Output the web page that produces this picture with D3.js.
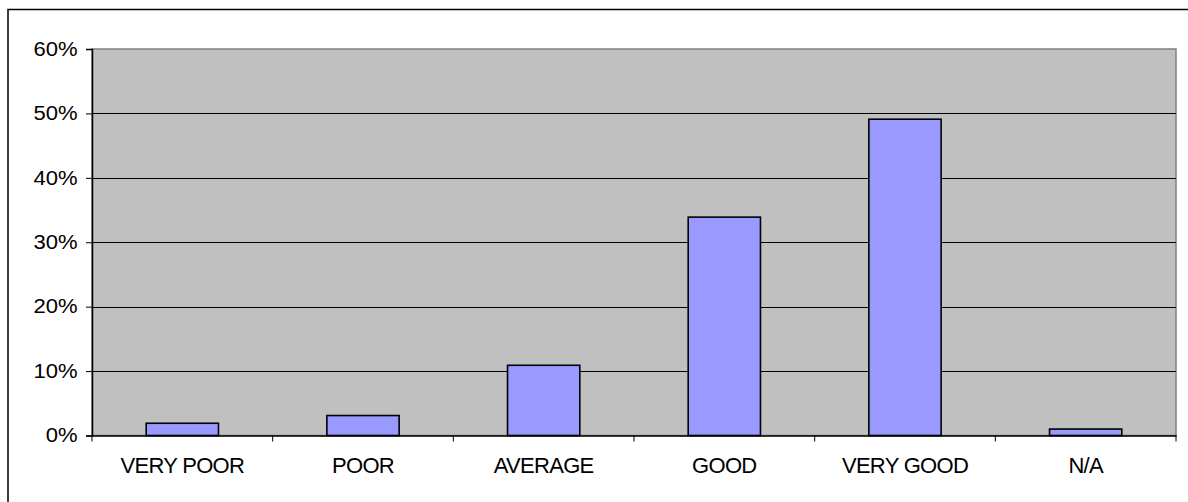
<!DOCTYPE html>
<html lang="en">
  <head>
    <meta charset="UTF-8" />
    <title>Rating Distribution</title>
    <script src="https://d3js.org/d3.v7.min.js"></script>
    <style>
      body {
        margin: 0;
        background: #fff;
      }
      .axis text {
        font-family: "Liberation Sans", Arial, sans-serif;
        fill: #000;
      }
    </style>
  </head>
  <body>
    <svg id="chart" width="1188" height="502"></svg>
    <script>
      // chart data
      const categories = ["VERY POOR", "POOR", "AVERAGE", "GOOD", "VERY GOOD", "N/A"];
      const values = [0.019, 0.031, 0.109, 0.339, 0.491, 0.01];
      const yTicks = [0, 0.1, 0.2, 0.3, 0.4, 0.5, 0.6];

      const width = 1188;
      const height = 502;
      const plot = { left: 92, right: 1176, top: 49, bottom: 435.5 };
      const yStretch = 1.13; // tick labels are drawn a little wide

      const svg = d3.select("#chart").attr("width", width).attr("height", height);

      // outer chart frame (runs off the right and bottom edges)
      svg
        .append("rect")
        .attr("x", 8)
        .attr("y", 9.5)
        .attr("width", 1200)
        .attr("height", 520)
        .attr("fill", "#fff")
        .attr("stroke", "#000")
        .attr("stroke-width", 1.5);

      const x = d3
        .scaleBand()
        .domain(categories)
        .range([plot.left, plot.right])
        .paddingInner(0.6)
        .paddingOuter(0.3);

      const y = d3.scaleLinear().domain([0, 0.6]).range([plot.bottom, plot.top]);

      // plot area
      svg
        .append("rect")
        .attr("x", plot.left)
        .attr("y", plot.top)
        .attr("width", plot.right - plot.left)
        .attr("height", plot.bottom - plot.top)
        .attr("fill", "#c0c0c0")
        .attr("stroke", "#808080")
        .attr("stroke-width", 1.5);

      // gridlines
      svg
        .append("g")
        .selectAll("line")
        .data(yTicks.slice(1, -1))
        .join("line")
        .attr("x1", plot.left)
        .attr("x2", plot.right)
        .attr("y1", (d) => Math.round(y(d)) + 0.5)
        .attr("y2", (d) => Math.round(y(d)) + 0.5)
        .attr("stroke", "#000")
        .attr("stroke-width", 1);

      // bars
      svg
        .append("g")
        .selectAll("rect")
        .data(values)
        .join("rect")
        .attr("x", (d, i) => x(categories[i]))
        .attr("y", (d) => y(d))
        .attr("width", x.bandwidth())
        .attr("height", (d) => y(0) - y(d))
        .attr("fill", "#9999ff")
        .attr("stroke", "#000")
        .attr("stroke-width", 1.6);

      // y axis
      const yAxis = svg
        .append("g")
        .attr("class", "axis")
        .attr("transform", `translate(${plot.left},0)`)
        .call(
          d3.axisLeft(y).tickValues(yTicks).tickFormat(d3.format(".0%")).tickSize(6).tickPadding(8)
        );
      yAxis.select(".domain").attr("stroke", "#000").attr("stroke-width", 1.5);
      yAxis.selectAll(".tick line").attr("stroke", "#000");
      yAxis
        .selectAll("text")
        .attr("font-size", "19.5px")
        .attr("x", -14.5 / yStretch)
        .attr("transform", `scale(${yStretch},1)`);

      // x axis labels
      const xAxis = svg
        .append("g")
        .attr("class", "axis")
        .attr("transform", `translate(0,${plot.bottom})`)
        .call(d3.axisBottom(x).tickSize(0).tickPadding(22.3).tickSizeOuter(0));
      xAxis.select(".domain").attr("stroke", "#000").attr("stroke-width", 1.5);
      xAxis.selectAll("text").attr("font-size", "22px").attr("letter-spacing", "-0.7px");

      // tick marks between categories
      const bounds = d3.range(categories.length + 1).map((i) => plot.left + i * x.step());
      xAxis
        .append("g")
        .selectAll("line")
        .data(bounds)
        .join("line")
        .attr("x1", (d) => d)
        .attr("x2", (d) => d)
        .attr("y1", 0)
        .attr("y2", 6)
        .attr("stroke", "#000");
    </script>
  </body>
</html>
